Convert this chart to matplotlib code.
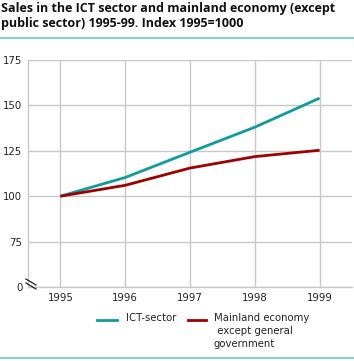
import matplotlib
matplotlib.use("Agg")
import matplotlib.pyplot as plt
from matplotlib.lines import Line2D

years = ["1995", "1996", "1997", "1998", "1999"]
ict = [100, 110.3, 124.2, 138, 154]
mainland = [100, 106, 115.5, 121.8, 125.3]
ytick_vals = [50, 75, 100, 125, 150, 175]
ytick_labels = ["0", "75", "100", "125", "150", "175"]
title = "Sales in the ICT sector and mainland economy (except\npublic sector) 1995-99. Index 1995=1000"
labels = ["ICT-sector", "Mainland economy\n except general\ngovernment"]
colors = ["#0f9c9c", "#a00000"]

W, H = 354, 361
fig = plt.figure(figsize=(W / 100, H / 100), dpi=100)
ax = fig.add_axes([28 / W, 1 - 287 / H, (352 - 28) / W, (287 - 60) / H])

x = list(range(len(years)))
ax.plot(x, ict, color=colors[0], lw=2.0, solid_capstyle="butt")
ax.plot(x, mainland, color=colors[1], lw=2.0, solid_capstyle="butt")

ax.set_xlim(-0.5, len(years) - 0.5)
ax.set_ylim(50, 175)
ax.set_xticks(x)
ax.set_xticklabels(years)
ax.set_yticks(ytick_vals)
ax.set_yticklabels(ytick_labels)
ax.tick_params(length=0, labelsize=7.3, colors="#222222", pad=4)
ax.grid(True, color="#c8c8c8", lw=1.0)
ax.set_axisbelow(True)
for s in ["top", "right"]:
    ax.spines[s].set_visible(False)
for s in ["left", "bottom"]:
    ax.spines[s].set_color("#c8c8c8")
    ax.spines[s].set_linewidth(1.0)

# axis break marks
for dy in (0, 4):
    fig.add_artist(Line2D([26 / W, 36 / W], [1 - (279 + dy) / H, 1 - (285 + dy) / H],
                          color="#222222", lw=0.9, transform=fig.transFigure))

fig.text(1 / W, 1 - 2 / H, title, ha="left", va="top", fontsize=9.0, fontweight="bold",
         family="Open Sans", color="#111111", linespacing=1.2)
fig.add_artist(Line2D([0, 1], [1 - 38 / H, 1 - 38 / H], color="#6cc9c9", lw=1.2,
                      transform=fig.transFigure))
fig.add_artist(Line2D([0, 1], [1 - 358 / H, 1 - 358 / H], color="#6cc9c9", lw=1.2,
                      transform=fig.transFigure))

# legend drawn manually
leg_items = [(97, 117, 126, 319), (188, 206, 214, 319)]
for (x0, x1, tx, ty), lab, c in zip(leg_items, labels, colors):
    fig.add_artist(Line2D([x0 / W, x1 / W], [1 - (ty + 1) / H, 1 - (ty + 1) / H], color=c,
                          lw=2, transform=fig.transFigure))
    fig.text(tx / W, 1 - (ty - 6) / H, lab, ha="left", va="top", fontsize=7.3,
             color="#222222", linespacing=1.4)

fig.savefig("out.png", dpi=100)
